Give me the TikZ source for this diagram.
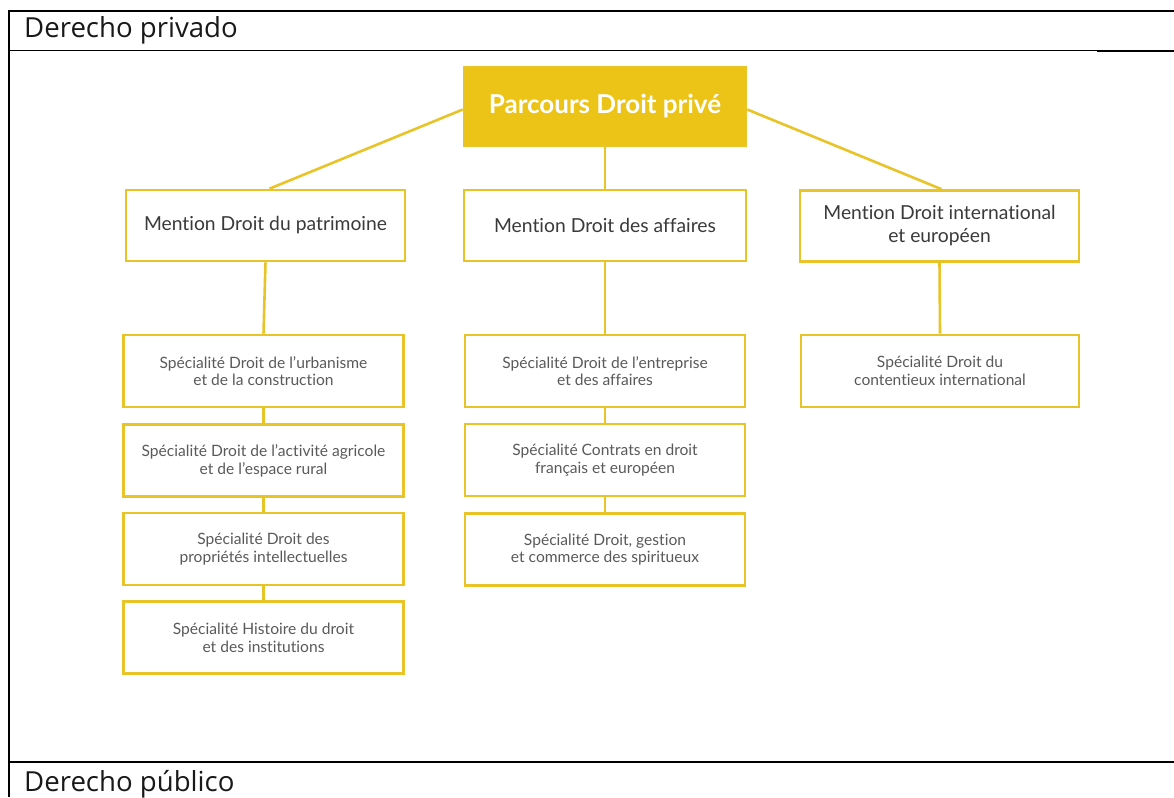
\documentclass[tikz,border=0pt]{standalone}
\usepackage{fontspec}
\setmainfont{Lato}[Ligatures={NoCommon,NoContextual}]
\newfontfamily\headfont{Open Sans}
\definecolor{gold}{RGB}{236,196,24}
\definecolor{goldline}{RGB}{232,196,40}
\definecolor{mtext}{RGB}{58,58,58}
\definecolor{stext}{RGB}{90,90,90}
\begin{document}
\begin{tikzpicture}[x=1pt,y=-1pt,
  frame/.style={black,line width=2pt},
  thinframe/.style={black,line width=1.3pt},
  head/.style={anchor=base west,inner sep=0pt,font=\headfont\fontsize{27.6}{30}\selectfont,text=black!90},
  topbox/.style={draw=goldline,fill=gold,line width=2.5pt,minimum width=282pt,minimum height=79pt,
    text=white,font=\bfseries\fontsize{26}{30}\selectfont,inner sep=0pt},
  mbox/.style={draw=goldline,fill=white,line width=2.6pt,minimum width=279pt,minimum height=71pt,
    text=mtext,font=\fontsize{19.3}{23}\selectfont,align=center,inner sep=0pt},
  sbox/.style={draw=goldline,fill=white,line width=2.6pt,minimum width=280pt,minimum height=72pt,
    text=stext,font=\fontsize{15.6}{17.8}\selectfont,align=center,inner sep=0pt},
  link/.style={goldline,line width=2.6pt}]
\useasboundingbox (0,0) rectangle (1174,797);
\fill[white] (0,0) rectangle (1174,797);
% table frame
\draw[frame] (9,11) -- (1174,11);
\draw[frame] (9,10) -- (9,797);
\draw[thinframe] (9,50.5) -- (1097,50.5);
\draw[frame] (1097,51) -- (1174,51);
\draw[frame] (9,762) -- (1174,762);
\node[head] (h1) at (24,38) {Derecho privado};
\node[head] (h2) at (24,791) {Derecho público};
% diagram nodes
\node[topbox] (top) at (605,106.5) {Parcours Droit privé};
\node[mbox] (m1) at (265.5,225.5) {Mention Droit du patrimoine};
\node[mbox,minimum width=282pt] (m2) at (605,225.5) {Mention Droit des affaires};
\node[mbox] (m3) at (939.5,226) {Mention Droit international\\et européen};
\node[sbox] (s1a) at (263.5,371) {Spécialité Droit de l’urbanisme\\et de la construction};
\node[sbox] (s1b) at (263.5,460.5) {Spécialité Droit de l’activité agricole\\et de l’espace rural};
\node[sbox] (s1c) at (263.5,549) {Spécialité Droit des\\propriétés intellectuelles};
\node[sbox] (s1d) at (263.5,637.5) {Spécialité Histoire du droit\\et des institutions};
\node[sbox] (s2a) at (605,371) {Spécialité Droit de l’entreprise\\et des affaires};
\node[sbox] (s2b) at (605,460) {Spécialité Contrats en droit\\français et européen};
\node[sbox] (s2c) at (605,549.5) {Spécialité Droit, gestion\\et commerce des spiritueux};
\node[sbox,minimum width=278pt] (s3a) at (940,371) {Spécialité Droit du\\contentieux international};
% connectors
\draw[link] ([yshift=-3pt]top.west) -- ([xshift=4pt]m1.north);
\draw[link] ([yshift=-3pt]top.east) -- ([xshift=2pt]m3.north);
\draw[link] (top.south) -- (m2.north);
\draw[link] (m1.south) -- (s1a.north);
\draw[link] (s1a.south) -- (s1b.north);
\draw[link] (s1b.south) -- (s1c.north);
\draw[link] (s1c.south) -- (s1d.north);
\draw[link] (m2.south) -- (s2a.north);
\draw[link] (s2a.south) -- (s2b.north);
\draw[link] (s2b.south) -- (s2c.north);
\draw[link] (m3.south) -- (s3a.north);
\end{tikzpicture}
\end{document}
